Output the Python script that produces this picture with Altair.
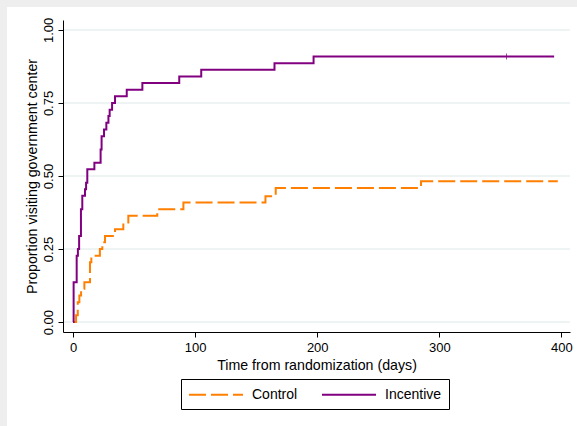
import altair as alt
import pandas as pd

# Kaplan-Meier style cumulative proportions
inc_t = [0, 0.5, 3, 4, 5, 6.5, 7.6, 9.8, 10.7, 11.7, 17.5, 22.6, 23.4, 25.4, 27.3,
         29, 30, 32, 34.4, 44, 56.8, 87, 105, 165, 197, 394]
inc_s = [0, 0.136, 0.227, 0.25, 0.295, 0.386, 0.432, 0.455, 0.477, 0.523, 0.545,
         0.591, 0.636, 0.659, 0.682, 0.705, 0.727, 0.75, 0.773, 0.795, 0.818,
         0.841, 0.864, 0.886, 0.909, 0.909]
ctl_t = [0, 2.5, 3.9, 5.2, 6.6, 9.3, 13.9, 15, 22, 24, 26.2, 34.4, 41.2, 45.3,
         69, 90.4, 157.6, 166, 285, 397]
ctl_s = [0, 0.023, 0.068, 0.091, 0.114, 0.136, 0.205, 0.227, 0.25, 0.273, 0.295,
         0.318, 0.341, 0.364, 0.386, 0.409, 0.431, 0.459, 0.482, 0.482]
cens_t = [355]
cens_s = [0.909]

groups = ["Control", "Incentive"]
colors = ["#ff7f00", "#800080"]
x_ticks = [0, 100, 200, 300, 400]
y_ticks = [0, 0.25, 0.5, 0.75, 1.0]

rows = []
for i, (t, s) in enumerate(zip(ctl_t, ctl_s)):
    rows.append({"t": t, "s": s, "group": "Control", "i": i})
for i, (t, s) in enumerate(zip(inc_t, inc_s)):
    rows.append({"t": t, "s": s, "group": "Incentive", "i": i})
df = pd.DataFrame(rows)
cens = pd.DataFrame({"t": cens_t, "s": cens_s})
grid = pd.DataFrame({"y": y_ticks})

FONT = "Liberation Sans"
xscale = alt.Scale(domain=[-8.2, 407], nice=False, zero=False)
yscale = alt.Scale(domain=[-0.034, 1.034], nice=False, zero=False)

bg = alt.Chart(pd.DataFrame({"a": [0]})).mark_rect(color="white").encode(
    x=alt.value(-56), x2=alt.value(520), y=alt.value(-13), y2=alt.value(420)
)

gridlines = alt.Chart(grid).mark_rule(color="#e8eff1", strokeWidth=1.5).encode(
    y=alt.Y("y:Q", scale=yscale)
)

leg = alt.Legend(title=None, orient="none", legendX=118, legendY=359,
                 direction="horizontal")

lines = alt.Chart(df).mark_line(interpolate="step-after", strokeWidth=2).encode(
    x=alt.X("t:Q", scale=xscale,
            axis=alt.Axis(values=x_ticks, title="Time from randomization (days)",
                          grid=False, labelPadding=4, titlePadding=4, zindex=1)),
    y=alt.Y("s:Q", scale=yscale,
            axis=alt.Axis(values=y_ticks, format=".2f", grid=False,
                          title="Proportion visiting government center",
                          labelAngle=270, labelAlign="center", labelBaseline="bottom",
                          labelPadding=3, titlePadding=3, zindex=1)),
    color=alt.Color("group:N", scale=alt.Scale(domain=groups, range=colors), legend=leg),
    strokeDash=alt.StrokeDash("group:N",
                              scale=alt.Scale(domain=groups, range=[[17, 5], [1, 0]]),
                              legend=leg),
    order="i:Q",
)

ticks = alt.Chart(cens).mark_tick(color="#800080", size=6, thickness=1).encode(
    x=alt.X("t:Q", scale=xscale), y=alt.Y("s:Q", scale=yscale)
)

chart = alt.layer(bg, gridlines, lines, ticks).properties(
    width=507, height=312,
    autosize=alt.AutoSizeParams(type="none"),
    padding={"left": 63, "top": 20, "right": 7, "bottom": 94},
    background="#eeeeee",
).configure_view(stroke=None).configure_axis(
    domainColor="black", tickColor="black", domainWidth=1, tickWidth=1, tickSize=5,
    labelColor="black", titleColor="black", labelFont=FONT, titleFont=FONT,
    labelFontSize=13, titleFontSize=14.2, titleFontWeight="normal",
).configure_legend(
    strokeColor="black", strokeWidth=1, padding=7,
    symbolType="M-1,0H6.2", symbolSize=225, symbolStrokeWidth=2,
    labelFont=FONT, labelFontSize=14, labelColor="black", labelOffset=47,
    columnPadding=20, zindex=1,
)

chart.save("out.html", embed_options={"renderer": "svg", "actions": False})
